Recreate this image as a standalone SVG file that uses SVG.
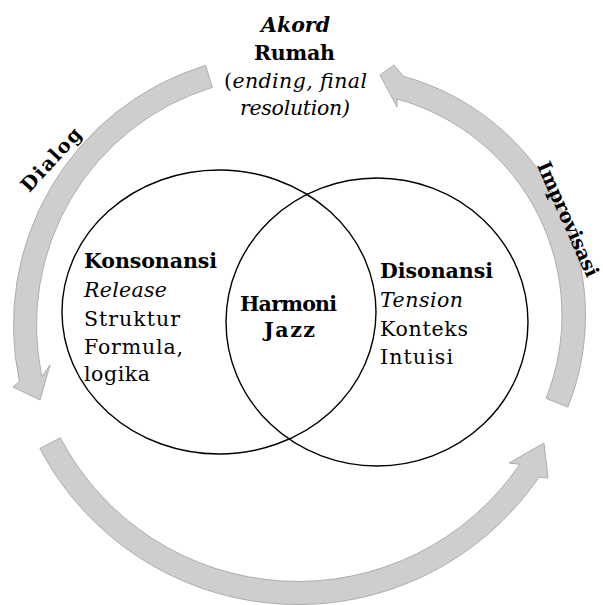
<svg xmlns="http://www.w3.org/2000/svg" width="603" height="605" viewBox="0 0 603 605">
<style>
.arrow{fill:#cecece;stroke:#adadad;stroke-width:1}
.ring{fill:none;stroke:#000;stroke-width:1.4}
text{font-family:"DejaVu Serif","Liberation Serif",serif;font-size:20.5px;fill:#000}
.rot{font-size:19.5px}
.b{font-weight:bold}
.i{font-style:italic}
.bi{font-weight:bold;font-style:italic}
.m{text-anchor:middle}
</style>
<rect width="603" height="605" fill="#fff"/>
<g id="connectors">
<path id="arrow-dialog" class="arrow" d="M 205.6 65.4 A 271.5 271.5 0 0 0 19.4 381.4 L 13 387 L 40 400 L 50 365 L 41.9 376.7 A 248.5 248.5 0 0 1 212.3 87.4 Z"/>
<path id="arrow-bottom" class="arrow" d="M 39.9 448.5 A 291.5 291.5 0 0 0 538.8 477.3 L 548 478 L 544 443 L 509 463 L 519.8 464.3 A 268.5 268.5 0 0 1 60.3 437.8 Z"/>
<path id="arrow-improvisasi" class="arrow" d="M 567.9 407.1 A 248 248 0 0 0 403.4 76.3 L 394 65 L 380 75 L 397 107 L 397.1 99 A 224.5 224.5 0 0 1 546.1 398.4 Z"/>
<text class="b rot" transform="translate(56,164) rotate(-47.6)" text-anchor="middle" textLength="79">Dialog</text>
<text class="b rot" transform="translate(562,222) rotate(66)" text-anchor="middle" textLength="124">Improvisasi</text>
</g>
<g id="node-konsonansi">
<ellipse class="ring" cx="219" cy="312" rx="157" ry="142"/>
<text class="b" x="84" y="268" textLength="133">Konsonansi</text>
<text class="i" x="84" y="297" textLength="83">Release</text>
<text x="84" y="326" textLength="96">Struktur</text>
<text x="84" y="354" textLength="99">Formula,</text>
<text x="84" y="381" textLength="66">logika</text>
</g>
<g id="node-disonansi">
<ellipse class="ring" cx="377" cy="322" rx="151" ry="144"/>
<text class="b" x="380" y="278" textLength="113">Disonansi</text>
<text class="i" x="380" y="307" textLength="83">Tension</text>
<text x="380" y="336" textLength="88">Konteks</text>
<text x="380" y="364" textLength="73">Intuisi</text>
</g>
<g id="node-harmoni">
<text class="b m" x="288.5" y="311" textLength="97">Harmoni</text>
<text class="b m" x="289.5" y="337" textLength="51">Jazz</text>
</g>
<g id="node-akord">
<text class="bi m" x="295.5" y="32" textLength="69">Akord</text>
<text class="b m" x="294.5" y="60" textLength="81">Rumah</text>
<text class="m" x="295.5" y="88" textLength="143">(<tspan class="i">ending, final</tspan></text>
<text class="i m" x="295" y="115" textLength="110">resolution)</text>
</g>
</svg>
